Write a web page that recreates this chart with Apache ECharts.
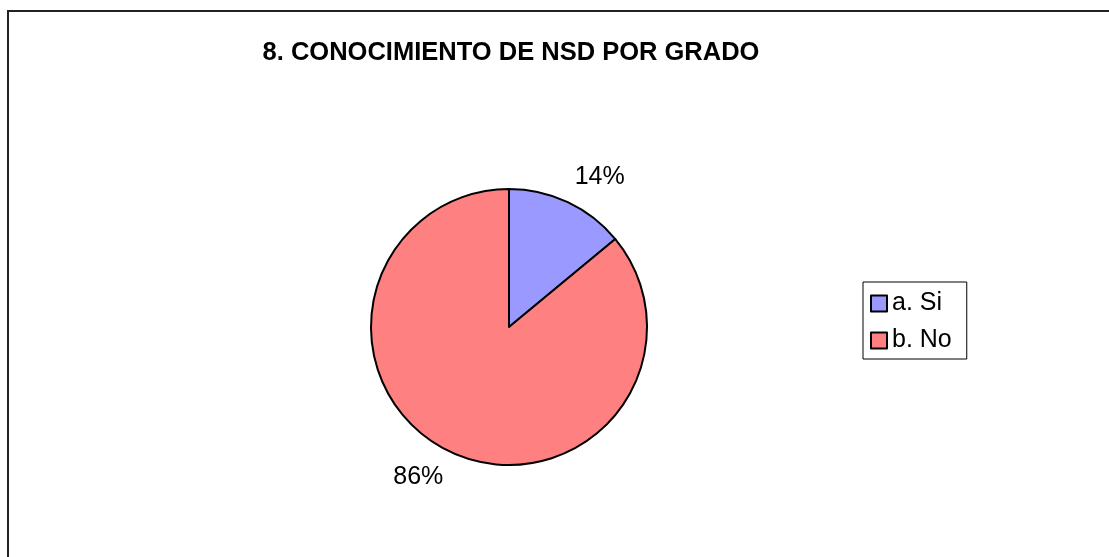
<!DOCTYPE html>
<html>
<head>
<meta charset="utf-8">
<script src="https://cdn.jsdelivr.net/npm/echarts@6/dist/echarts.min.js"></script>
<style>
  html, body { margin: 0; padding: 0; background: #fff; }
  #chart { width: 1109px; height: 557px; }
</style>
</head>
<body>
<div id="chart"></div>
<script>
  // categories and shares (%)
  var categories = ['a. Si', 'b. No'];
  var values = [14, 86];
  var sliceColors = ['#9999FF', '#FF8080'];

  var font = '"Liberation Sans", Arial, sans-serif';
  var pieCenter = [509, 327];
  var chart = echarts.init(document.getElementById('chart'));

  var option = {
    backgroundColor: '#fff',
    animation: false,
    graphic: [{
      type: 'rect',
      shape: { x: 8, y: 11, width: 1200, height: 700 },
      style: { fill: 'none', stroke: '#222', lineWidth: 2 },
      silent: true
    }],
    title: {
      text: '8. CONOCIMIENTO DE NSD POR GRADO',
      left: 506,
      textAlign: 'center',
      top: 35,
      textStyle: { fontFamily: font, fontSize: 25.5, fontWeight: 'bold', color: '#000' }
    },
    legend: {
      orient: 'vertical',
      left: 863,
      top: 282,
      data: categories,
      icon: 'rect',
      itemWidth: 16,
      itemHeight: 16,
      itemGap: 12,
      padding: [9, 15, 6, 7],
      borderColor: '#000',
      borderWidth: 1,
      textStyle: { fontFamily: font, fontSize: 25, color: '#000' }
    },
    series: [{
      type: 'pie',
      center: pieCenter,
      radius: 138,
      startAngle: 90,
      clockwise: true,
      color: sliceColors,
      itemStyle: { borderColor: '#000', borderWidth: 2 },
      label: {
        show: true,
        position: 'outside',
        formatter: '{c}%',
        fontFamily: font,
        fontSize: 25,
        color: '#000',
        distanceToLabelLine: 0
      },
      labelLine: { show: false, length: 28, length2: 0 },
      // pull labels slightly toward the vertical axis, like the original
      labelLayout: function (params) {
        var right = params.labelRect.x > pieCenter[0];
        return { dx: right ? -5 : 5 };
      },
      emphasis: { disabled: true },
      data: categories.map(function (name, i) {
        return { name: name, value: values[i] };
      })
    }]
  };

  chart.setOption(option);
</script>
</body>
</html>
